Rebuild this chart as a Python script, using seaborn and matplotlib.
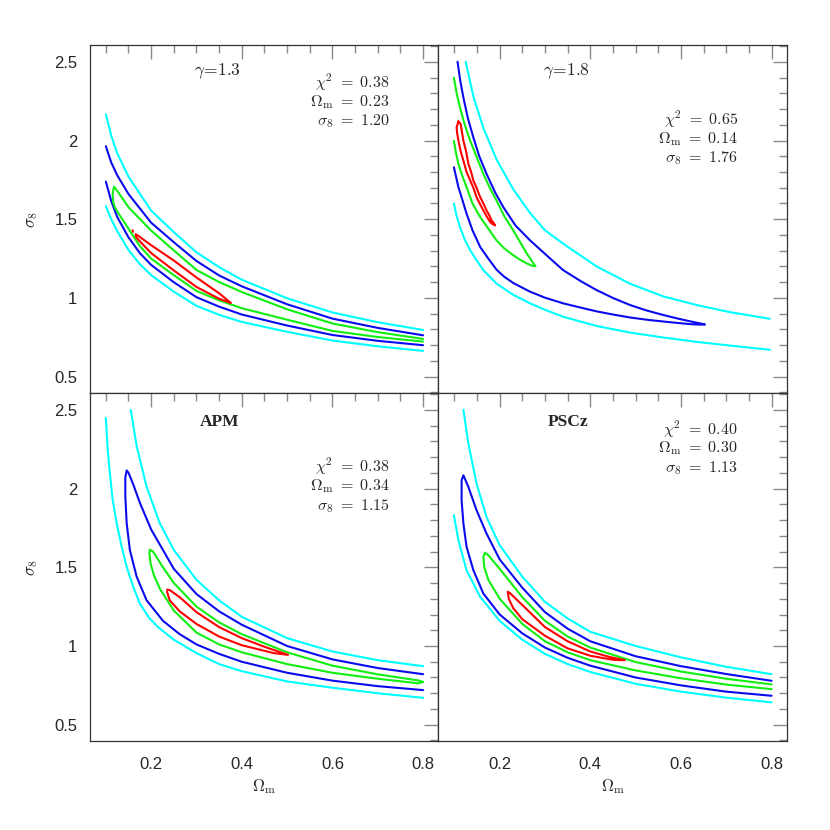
import matplotlib
matplotlib.use("Agg")
import matplotlib.pyplot as plt
import seaborn as sns
from matplotlib.ticker import MultipleLocator, FuncFormatter

# ---- gamma = 1.3 (arriba izquierda) ----
a_cyan1_x = [0.1, 0.112, 0.125, 0.15, 0.2, 0.25, 0.3, 0.35, 0.4, 0.5, 0.6, 0.7, 0.8]
a_cyan1_y = [2.167, 2.03, 1.92, 1.77, 1.555, 1.418, 1.29, 1.196, 1.116, 0.998, 0.908, 0.846, 0.797]
a_blue1_x = [0.1, 0.112, 0.125, 0.15, 0.2, 0.25, 0.3, 0.35, 0.4, 0.5, 0.6, 0.7, 0.8]
a_blue1_y = [1.964, 1.86, 1.78, 1.66, 1.478, 1.354, 1.235, 1.143, 1.074, 0.960, 0.869, 0.81, 0.763]
a_blue2_x = [0.1, 0.112, 0.125, 0.15, 0.175, 0.2, 0.25, 0.3, 0.35, 0.4, 0.5, 0.6, 0.7, 0.8]
a_blue2_y = [1.739, 1.615, 1.515, 1.385, 1.285, 1.21, 1.10, 1.005, 0.945, 0.895, 0.825, 0.765, 0.728, 0.700]
a_cyan2_x = [0.1, 0.112, 0.125, 0.15, 0.175, 0.2, 0.25, 0.3, 0.35, 0.4, 0.5, 0.6, 0.7, 0.8]
a_cyan2_y = [1.583, 1.50, 1.425, 1.305, 1.215, 1.145, 1.04, 0.95, 0.893, 0.848, 0.785, 0.73, 0.693, 0.664]
a_green_x = [0.8, 0.7, 0.6, 0.5, 0.4, 0.35, 0.3, 0.25, 0.2, 0.15, 0.125, 0.118,
             0.115, 0.116, 0.12, 0.125, 0.15, 0.175, 0.2, 0.25, 0.3, 0.35, 0.4, 0.5, 0.6, 0.7, 0.8]
a_green_y = [0.740, 0.783, 0.838, 0.928, 1.038, 1.101, 1.178, 1.302, 1.428, 1.576, 1.681, 1.707,
             1.66, 1.61, 1.575, 1.55, 1.44, 1.33, 1.25, 1.145, 1.045, 0.985, 0.935, 0.862, 0.791, 0.752, 0.723]
a_red_x = [0.166, 0.17, 0.2, 0.25, 0.3, 0.35, 0.376, 0.35, 0.3, 0.25, 0.2, 0.175, 0.167, 0.166]
a_red_y = [1.403, 1.398, 1.335, 1.238, 1.13, 1.03, 0.968, 0.995, 1.07, 1.175, 1.285, 1.36, 1.385, 1.403]
a_dot_x = [0.159, 0.160]
a_dot_y = [1.430, 1.420]

# ---- gamma = 1.8 (arriba derecha) ----
b_cyan1_x = [0.125, 0.142, 0.164, 0.193, 0.230, 0.267, 0.30, 0.340, 0.414, 0.488, 0.561, 0.635, 0.708, 0.796]
b_cyan1_y = [2.5, 2.28, 2.08, 1.88, 1.69, 1.54, 1.43, 1.345, 1.20, 1.09, 1.01, 0.955, 0.91, 0.868]
b_blue_x = [0.107, 0.113, 0.120, 0.130, 0.142, 0.155, 0.171, 0.19, 0.208, 0.235, 0.267, 0.30, 0.340, 0.38,
            0.414, 0.45, 0.488, 0.525, 0.561, 0.595, 0.620, 0.643, 0.653,
            0.640, 0.620, 0.58, 0.53, 0.488, 0.45, 0.414, 0.38, 0.340, 0.30, 0.267, 0.230,
            0.21, 0.193, 0.175, 0.157, 0.14, 0.127, 0.117, 0.109, 0.099]
b_blue_y = [2.5, 2.38, 2.272, 2.14, 2.019, 1.90, 1.788, 1.67, 1.577, 1.46, 1.366, 1.28, 1.177, 1.105,
            1.050, 1.0, 0.955, 0.92, 0.892, 0.868, 0.852, 0.838, 0.832,
            0.831, 0.834, 0.845, 0.86, 0.876, 0.895, 0.915, 0.938, 0.966, 1.002, 1.040, 1.095,
            1.135, 1.18, 1.25, 1.324, 1.43, 1.535, 1.63, 1.703, 1.830]
b_cyan2_x = [0.099, 0.105, 0.1125, 0.123, 0.135, 0.15, 0.164, 0.193, 0.23, 0.267, 0.30, 0.340, 0.414, 0.488,
             0.561, 0.635, 0.708, 0.796]
b_cyan2_y = [1.598, 1.52, 1.45, 1.37, 1.303, 1.235, 1.177, 1.092, 1.02, 0.966, 0.925, 0.881, 0.822, 0.780,
             0.749, 0.721, 0.698, 0.671]
b_green_x = [0.099, 0.105, 0.1125, 0.123, 0.135, 0.15, 0.164, 0.178, 0.193, 0.21, 0.230, 0.245, 0.260, 0.272, 0.279,
             0.272, 0.260, 0.245, 0.230, 0.21, 0.193, 0.175, 0.157, 0.14, 0.127, 0.117, 0.109, 0.103, 0.099]
b_green_y = [2.399, 2.30, 2.209, 2.10, 1.998, 1.89, 1.788, 1.70, 1.619, 1.52, 1.429, 1.355, 1.282, 1.23, 1.202,
             1.204, 1.219, 1.243, 1.271, 1.315, 1.366, 1.44, 1.514, 1.60, 1.703, 1.78, 1.851, 1.93, 1.998]
b_red_x = [0.109, 0.114, 0.117, 0.120, 0.126, 0.131, 0.137, 0.142, 0.149, 0.157, 0.164, 0.171, 0.178, 0.182, 0.186, 0.190,
           0.184, 0.179, 0.171, 0.164, 0.156, 0.149, 0.142, 0.135, 0.127, 0.120, 0.114, 0.109, 0.106, 0.105, 0.109]
b_red_y = [2.121, 2.104, 2.05, 1.998, 1.93, 1.851, 1.80, 1.746, 1.70, 1.640, 1.60, 1.556, 1.52, 1.492, 1.48, 1.461,
           1.47, 1.482, 1.52, 1.556, 1.60, 1.640, 1.70, 1.746, 1.80, 1.872, 1.93, 1.998, 2.05, 2.083, 2.121]

# ---- APM (abajo izquierda) ----
c_cyan1_x = [0.155, 0.168, 0.19, 0.219, 0.25, 0.3, 0.35, 0.4, 0.5, 0.6, 0.7, 0.8]
c_cyan1_y = [2.5, 2.27, 2.01, 1.78, 1.61, 1.42, 1.29, 1.185, 1.05, 0.965, 0.91, 0.872]
c_blue_x = [0.8, 0.7, 0.6, 0.5, 0.4, 0.35, 0.3, 0.25, 0.2, 0.175, 0.16, 0.15, 0.146,
            0.143, 0.143, 0.146, 0.153, 0.168, 0.19, 0.226, 0.263, 0.3, 0.35, 0.4, 0.5, 0.6, 0.7, 0.8]
c_blue_y = [0.821, 0.86, 0.915, 1.0, 1.135, 1.22, 1.33, 1.49, 1.74, 1.91, 2.03, 2.10, 2.115,
            2.07, 1.95, 1.78, 1.61, 1.44, 1.29, 1.16, 1.075, 1.01, 0.95, 0.90, 0.83, 0.78, 0.745, 0.72]
c_green_x = [0.8, 0.79, 0.7, 0.6, 0.5, 0.4, 0.35, 0.3, 0.25, 0.226, 0.204, 0.197,
             0.196, 0.199, 0.206, 0.22, 0.25, 0.3, 0.35, 0.4, 0.5, 0.6, 0.7, 0.79, 0.8]
c_green_y = [0.772, 0.781, 0.82, 0.875, 0.96, 1.075, 1.15, 1.25, 1.40, 1.50, 1.60, 1.612,
             1.59, 1.52, 1.45, 1.36, 1.225, 1.085, 1.01, 0.96, 0.885, 0.83, 0.792, 0.763, 0.772]
c_red_x = [0.235, 0.241, 0.263, 0.3, 0.35, 0.4, 0.45, 0.502,
           0.47, 0.4, 0.35, 0.3, 0.263, 0.241, 0.235]
c_red_y = [1.358, 1.355, 1.31, 1.215, 1.12, 1.05, 0.995, 0.944,
           0.955, 1.005, 1.06, 1.14, 1.22, 1.29, 1.345]
c_cyan2_x = [0.1, 0.104, 0.109, 0.115, 0.124, 0.135, 0.146, 0.16, 0.175, 0.195, 0.215, 0.25, 0.3, 0.35, 0.4,
             0.5, 0.6, 0.7, 0.8]
c_cyan2_y = [2.449, 2.25, 2.094, 1.93, 1.777, 1.63, 1.502, 1.38, 1.27, 1.18, 1.12, 1.04, 0.955, 0.885, 0.84,
             0.775, 0.735, 0.70, 0.671]

# ---- PSCz (abajo derecha) ----
d_cyan1_x = [0.120, 0.131, 0.149, 0.171, 0.2, 0.25, 0.3, 0.35, 0.4, 0.5, 0.6, 0.7, 0.8]
d_cyan1_y = [2.5, 2.284, 2.031, 1.819, 1.64, 1.44, 1.28, 1.175, 1.09, 1.0, 0.928, 0.868, 0.821]
d_blue_x = [0.8, 0.7, 0.6, 0.5, 0.4, 0.35, 0.3, 0.25, 0.2, 0.171, 0.149, 0.131, 0.120,
            0.116, 0.116, 0.120, 0.127, 0.142, 0.164, 0.2, 0.25, 0.3, 0.35, 0.4, 0.5, 0.6, 0.7, 0.8]
d_blue_y = [0.779, 0.822, 0.872, 0.935, 1.03, 1.11, 1.215, 1.37, 1.55, 1.714, 1.862, 2.01, 2.084,
            2.052, 1.925, 1.777, 1.629, 1.481, 1.333, 1.20, 1.08, 0.99, 0.925, 0.875, 0.80, 0.75, 0.71, 0.684]
d_green_x = [0.8, 0.7, 0.6, 0.5, 0.4, 0.35, 0.3, 0.25, 0.2, 0.175, 0.168,
             0.164, 0.166, 0.175, 0.2, 0.25, 0.3, 0.35, 0.4, 0.5, 0.6, 0.7, 0.8]
d_green_y = [0.756, 0.792, 0.838, 0.898, 0.99, 1.06, 1.16, 1.31, 1.49, 1.576, 1.593,
             1.566, 1.50, 1.42, 1.30, 1.14, 1.03, 0.96, 0.91, 0.845, 0.795, 0.755, 0.726]
d_red_x = [0.218, 0.223, 0.25, 0.3, 0.35, 0.4, 0.443, 0.476,
           0.451, 0.4, 0.35, 0.3, 0.25, 0.23, 0.22, 0.218]
d_red_y = [1.344, 1.335, 1.26, 1.12, 1.03, 0.965, 0.93, 0.91,
           0.912, 0.938, 0.985, 1.065, 1.17, 1.24, 1.30, 1.344]
d_cyan2_x = [0.099, 0.109, 0.127, 0.157, 0.2, 0.25, 0.3, 0.35, 0.4, 0.5, 0.6, 0.7, 0.8]
d_cyan2_y = [1.830, 1.671, 1.481, 1.312, 1.16, 1.04, 0.95, 0.885, 0.835, 0.76, 0.71, 0.672, 0.642]

titles = [r"$\gamma\!=\!1.3$", r"$\gamma\!=\!1.8$", "APM", "PSCz"]
chi2 = ["0.38", "0.65", "0.38", "0.40"]
om_best = ["0.23", "0.14", "0.34", "0.30"]
s8_best = ["1.20", "1.76", "1.15", "1.13"]

CYAN, BLUE, GREEN, RED = "#00ffff", "#0a0aee", "#11ee11", "#ff0000"

panels = [
    [(a_cyan1_x, a_cyan1_y, CYAN), (a_cyan2_x, a_cyan2_y, CYAN), (a_blue1_x, a_blue1_y, BLUE),
     (a_blue2_x, a_blue2_y, BLUE), (a_green_x, a_green_y, GREEN), (a_red_x, a_red_y, RED),
     (a_dot_x, a_dot_y, RED)],
    [(b_cyan1_x, b_cyan1_y, CYAN), (b_cyan2_x, b_cyan2_y, CYAN), (b_blue_x, b_blue_y, BLUE),
     (b_green_x, b_green_y, GREEN), (b_red_x, b_red_y, RED)],
    [(c_cyan1_x, c_cyan1_y, CYAN), (c_cyan2_x, c_cyan2_y, CYAN), (c_blue_x, c_blue_y, BLUE),
     (c_green_x, c_green_y, GREEN), (c_red_x, c_red_y, RED)],
    [(d_cyan1_x, d_cyan1_y, CYAN), (d_cyan2_x, d_cyan2_y, CYAN), (d_blue_x, d_blue_y, BLUE),
     (d_green_x, d_green_y, GREEN), (d_red_x, d_red_y, RED)],
]

# posicion vertical de la primera linea de resultados (coordenadas de ejes)
stat_y0 = [0.893, 0.787, 0.789, 0.897]

sns.set_style("white")
plt.rcParams["font.family"] = ["Liberation Sans", "DejaVu Sans"]
plt.rcParams["mathtext.fontset"] = "cm"

fig = plt.figure(figsize=(8.3, 8.3), dpi=100)
L, W = 0.1084, 0.4199
B, H = 0.1069, 0.4193
boxes = [(L, B + H, W, H), (L + W, B + H, W, H), (L, B, W, H), (L + W, B, W, H)]

for i, box in enumerate(boxes):
    ax = fig.add_axes(box)
    for xs, ys, col in panels[i]:
        sns.lineplot(x=xs, y=ys, sort=False, estimator=None, color=col, lw=1.5, ax=ax, legend=False)
    ax.set_xlim(0.065, 0.834)
    ax.set_ylim(0.395, 2.605)
    ax.xaxis.set_major_locator(MultipleLocator(0.2))
    ax.xaxis.set_minor_locator(MultipleLocator(0.05))
    ax.yaxis.set_major_locator(MultipleLocator(0.5))
    ax.yaxis.set_minor_locator(MultipleLocator(0.1))
    ax.xaxis.set_major_formatter(FuncFormatter(lambda v, p: f"{v:g}"))
    ax.yaxis.set_major_formatter(FuncFormatter(lambda v, p: f"{v:g}"))
    ax.tick_params(which="both", direction="in", top=True, right=True, color="#8a8a8a", width=1)
    ax.tick_params(which="major", length=10)
    ax.tick_params(which="minor", length=5.5)
    ax.tick_params(axis="x", pad=11, labelsize=12)
    ax.tick_params(axis="y", pad=9, labelsize=12)
    for s in ax.spines.values():
        s.set_color("#333333")
        s.set_linewidth(0.9)
    if i in (0, 1):
        ax.tick_params(labelbottom=False)
        ax.set_xlabel("")
    else:
        ax.set_xlabel(r"$\Omega_{\rm m}$", fontsize=12, labelpad=4)
    if i in (1, 3):
        ax.tick_params(labelleft=False)
        ax.set_ylabel("")
    else:
        ax.set_ylabel(r"$\sigma_8$", fontsize=12, labelpad=10)

    if i < 2:
        ax.text(0.367, 0.925, titles[i], transform=ax.transAxes, ha="center", va="center",
                fontsize=12.5)
    else:
        ax.text(0.372, 0.918, titles[i], transform=ax.transAxes, ha="center", va="center",
                fontsize=12.5, family="Liberation Serif", weight="bold")
    lines = [r"$\chi^2\ =\ %s$" % chi2[i], r"$\Omega_{\rm m}\ =\ %s$" % om_best[i],
             r"$\sigma_8\ =\ %s$" % s8_best[i]]
    for k, t in enumerate(lines):
        ax.text(0.86, stat_y0[i] - k * 0.056, t, transform=ax.transAxes, ha="right",
                va="center", fontsize=11.5)

fig.savefig("out.png", dpi=100)
